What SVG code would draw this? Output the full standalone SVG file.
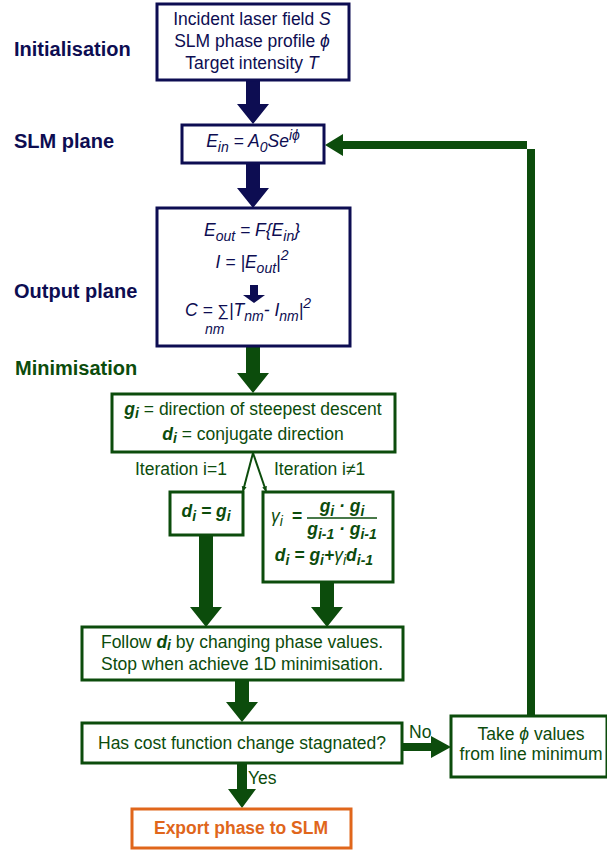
<svg xmlns="http://www.w3.org/2000/svg" width="607" height="850" viewBox="0 0 607 850">
<style>
text{font-family:"Liberation Sans",Arial,sans-serif;font-size:17.5px}
.nv{fill:#0d0d52}
.gr{fill:#0c4c0c}
.lbl{font-size:20px;font-weight:bold}
.bn{fill:#fff;stroke:#0d0d52;stroke-width:3}
.bg{fill:#fff;stroke:#0c4c0c;stroke-width:3}
.bo{fill:#fff;stroke:#e0661b;stroke-width:3}
.it{font-style:italic}
.bi{font-style:italic;font-weight:bold}
.sm{font-size:14px}
.an{fill:#0d0d52}
.ag{fill:#0c4c0c}
</style>
<defs>
<marker id="ah" viewBox="0 0 10 10" refX="9" refY="5" markerWidth="5" markerHeight="6" orient="auto" markerUnits="userSpaceOnUse">
<path d="M0,0 L10,5 L0,10 z" fill="#0c4c0c"/>
</marker>
</defs>

<g id="stage-labels">
<text class="lbl nv" x="14" y="56">Initialisation</text>
<text class="lbl nv" x="14" y="148">SLM plane</text>
<text class="lbl nv" x="14" y="298">Output plane</text>
<text class="lbl gr" x="15" y="375">Minimisation</text>
</g>

<g id="connectors">
<polygon class="an" points="246,80 260,80 260,104 269,104 253,124 237,104 246,104"/>
<polygon class="an" points="246,163 260,163 260,188 269,188 253,208 237,188 246,188"/>
<polygon class="ag" points="246,347 260,347 260,373 269,373 253,393 237,373 246,373"/>
<line x1="253" y1="453" x2="243" y2="491" stroke="#0c4c0c" stroke-width="2" marker-end="url(#ah)"/>
<line x1="253" y1="453" x2="266" y2="491" stroke="#0c4c0c" stroke-width="2" marker-end="url(#ah)"/>
<polygon class="ag" points="199,535 213,535 213,607 222,607 206,627 190,607 199,607"/>
<polygon class="ag" points="320,582 334,582 334,607 343,607 327,627 311,607 320,607"/>
<polygon class="ag" points="235,680 249,680 249,702 258,702 242,722 226,702 235,702"/>
<polygon class="ag" points="237,763 247,763 247,789 256,789 242,808 228,789 237,789"/>
<polygon class="ag" points="402,743 431,743 431,736 451,747 431,758 431,751 402,751"/>
<polygon class="ag" points="527,716 535,716 535,149 343,149 343,156 325,145 343,134 343,141 527,141"/>
<text class="gr" x="135" y="475">Iteration i=1</text>
<text class="gr" x="274" y="475">Iteration i≠1</text>
<text class="gr" x="409" y="738">No</text>
<text class="gr" x="248" y="784">Yes</text>
</g>

<g id="init">
<rect class="bn" x="157" y="4" width="192" height="76"/>
<text class="nv" text-anchor="middle" x="252" y="25">Incident laser field <tspan class="it">S</tspan></text>
<text class="nv" text-anchor="middle" x="252" y="47">SLM phase profile <tspan class="it">ϕ</tspan></text>
<text class="nv" text-anchor="middle" x="252" y="69">Target intensity <tspan class="it">T</tspan></text>
</g>

<g id="slm">
<rect class="bn" x="182" y="125" width="142" height="38"/>
<text class="nv it" text-anchor="middle" x="253" y="147">E<tspan class="sm" dy="5">in</tspan><tspan dy="-5"> = A</tspan><tspan class="sm" dy="5">0</tspan><tspan dy="-5">Se</tspan><tspan class="sm" dy="-7">iϕ</tspan></text>
</g>

<g id="output">
<rect class="bn" x="157" y="208" width="193" height="138"/>
<text class="nv it" text-anchor="middle" x="252" y="236">E<tspan class="sm" dy="5">out</tspan><tspan dy="-5"> = F{E</tspan><tspan class="sm" dy="5">in</tspan><tspan dy="-5">}</tspan></text>
<text class="nv it" text-anchor="middle" x="252" y="268">I = |E<tspan class="sm" dy="5">out</tspan><tspan dy="-5">|</tspan><tspan class="sm" dy="-8">2</tspan></text>
<polygon class="an" points="250,285 258,285 258,295 265,295 254,303 243,295 250,295"/>
<text class="nv it" x="185" y="316">C = <tspan font-style="normal" font-size="16">∑</tspan>|T<tspan class="sm" dy="5">nm</tspan><tspan dy="-5">- I</tspan><tspan class="sm" dy="5">nm</tspan><tspan dy="-5">|</tspan><tspan class="sm" dy="-8">2</tspan></text>
<text class="nv it sm" x="205" y="334">nm</text>
</g>

<g id="minimisation">
<rect class="bg" x="112" y="394" width="283" height="58"/>
<text class="gr" text-anchor="middle" x="253" y="415"><tspan class="bi">g</tspan><tspan class="bi sm" dy="3">i</tspan><tspan dy="-3"> = direction of steepest descent</tspan></text>
<text class="gr" text-anchor="middle" x="253" y="440"><tspan class="bi">d</tspan><tspan class="bi sm" dy="3">i</tspan><tspan dy="-3"> = conjugate direction</tspan></text>
</g>

<g id="first-iter">
<rect class="bg" x="170" y="492" width="73" height="43"/>
<text class="gr bi" text-anchor="middle" x="206" y="517">d<tspan class="sm" dy="4">i</tspan><tspan dy="-4"> = g</tspan><tspan class="sm" dy="4">i</tspan></text>
</g>

<g id="other-iter">
<rect class="bg" x="263" y="492" width="130" height="90"/>
<text class="gr it" x="271" y="522">γ<tspan class="sm" dy="4">i</tspan></text>
<text class="gr" font-weight="bold" x="292" y="522">=</text>
<text class="gr bi" text-anchor="middle" x="342" y="512">g<tspan class="sm" dy="4">i</tspan><tspan dy="-4"> · g</tspan><tspan class="sm" dy="4">i</tspan></text>
<line x1="307" y1="518" x2="377" y2="518" stroke="#0c4c0c" stroke-width="1.5"/>
<text class="gr bi" text-anchor="middle" x="342" y="535">g<tspan class="sm" dy="4">i-1</tspan><tspan dy="-4"> · g</tspan><tspan class="sm" dy="4">i-1</tspan></text>
<text class="gr bi" text-anchor="middle" x="324" y="561">d<tspan class="sm" dy="4">i</tspan><tspan dy="-4"> = g</tspan><tspan class="sm" dy="4">i</tspan><tspan dy="-4">+</tspan><tspan font-weight="normal">γ</tspan><tspan class="sm" font-weight="normal" dy="4">i</tspan><tspan dy="-4">d</tspan><tspan class="sm" dy="4">i-1</tspan></text>
</g>

<g id="line-search">
<rect class="bg" x="82" y="627" width="321" height="53"/>
<text class="gr" text-anchor="middle" x="242" y="648">Follow <tspan class="bi">d</tspan><tspan class="bi sm" dy="2">i</tspan><tspan dy="-2"> by changing phase values.</tspan></text>
<text class="gr" text-anchor="middle" x="242" y="670">Stop when achieve 1D minimisation.</text>
</g>

<g id="decision">
<rect class="bg" x="82" y="723" width="320" height="40"/>
<text class="gr" text-anchor="middle" x="242" y="749">Has cost function change stagnated?</text>
</g>

<g id="take-phi">
<rect class="bg" x="451" y="716" width="156" height="61"/>
<text class="gr" font-size="16.5" text-anchor="middle" x="531" y="740">Take <tspan class="it">ϕ</tspan> values</text>
<text class="gr" font-size="16.5" text-anchor="middle" x="531" y="760">from line minimum</text>
</g>

<g id="export">
<rect class="bo" x="132" y="809" width="219" height="39"/>
<text fill="#e0661b" font-weight="bold" text-anchor="middle" x="241" y="834">Export phase to SLM</text>
</g>
</svg>
